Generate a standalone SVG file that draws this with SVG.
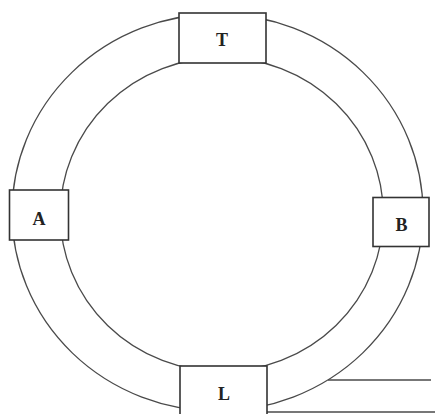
<svg xmlns="http://www.w3.org/2000/svg" width="435" height="414" viewBox="0 0 435 414">
<style>
.ring{fill:none;stroke:#4a4a4a;stroke-width:1.3}
.box{fill:#fff;stroke:#333;stroke-width:1.6}
.lbl{font-family:"Liberation Serif","Times New Roman",serif;font-weight:bold;font-size:18px;fill:#222;text-anchor:middle}
</style>
<rect width="435" height="414" fill="#fff"/>
<g id="connectors">
<ellipse class="ring" cx="217.5" cy="212.5" rx="205.5" ry="198.5"/>
<ellipse class="ring" cx="221.8" cy="214.5" rx="161.5" ry="157"/>
<line class="ring" x1="328" y1="380" x2="431" y2="380"/>
<line class="ring" x1="267" y1="412" x2="435" y2="412"/>
</g>
<g id="T"><rect class="box" x="179" y="13" width="87" height="50"/><text class="lbl" x="222" y="46">T</text></g>
<g id="A"><rect class="box" x="9.5" y="190" width="59" height="50"/><text class="lbl" x="39" y="225">A</text></g>
<g id="B"><rect class="box" x="373" y="197.5" width="56" height="49"/><text class="lbl" x="401.5" y="231">B</text></g>
<g id="L"><rect class="box" x="180" y="366" width="87" height="60"/><text class="lbl" x="224" y="400">L</text></g>
</svg>
